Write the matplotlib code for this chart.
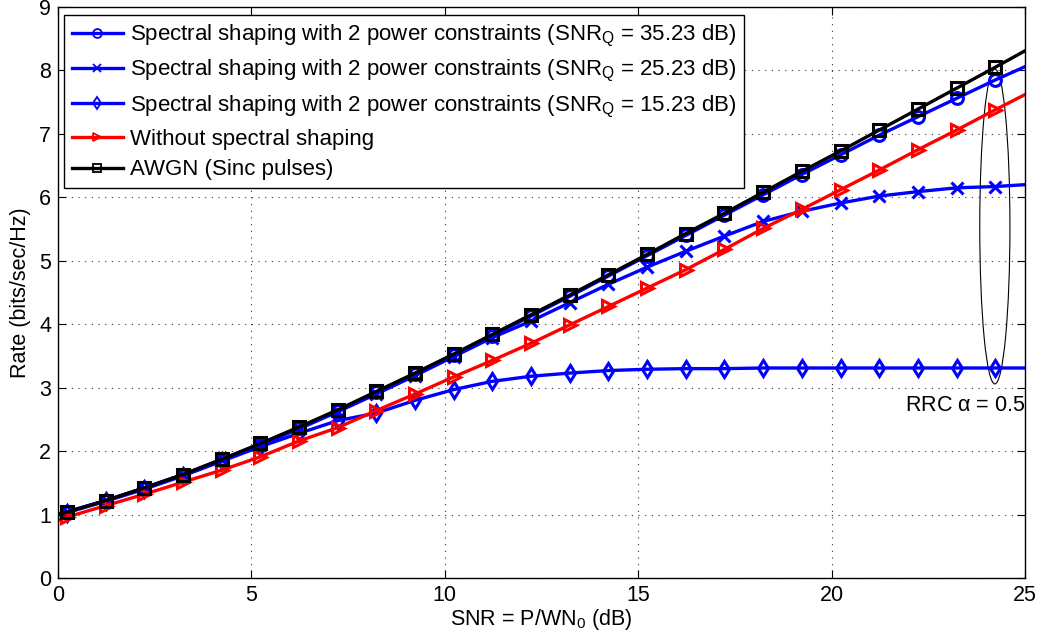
import matplotlib
matplotlib.use("Agg")
import matplotlib.pyplot as plt
from matplotlib.patches import Ellipse

plt.rcParams["font.family"] = ["Liberation Sans", "DejaVu Sans"]
plt.rcParams["mathtext.fontset"] = "custom"
plt.rcParams["mathtext.rm"] = "Liberation Sans"
plt.rcParams["mathtext.it"] = "Liberation Sans"

# SNR grid (dB): line starts at 0, markers at x.23, line ends at 25
snr_db = [0, 0.23, 1.23, 2.23, 3.23, 4.23, 5.23, 6.23, 7.23, 8.23, 9.23,
          10.23, 11.23, 12.23, 13.23, 14.23, 15.23, 16.23, 17.23, 18.23,
          19.23, 20.23, 21.23, 22.23, 23.23, 24.23, 25]

rate_q35 = [1.00, 1.04, 1.22, 1.42, 1.63, 1.87, 2.11, 2.37, 2.64, 2.93, 3.22,
            3.52, 3.82, 4.13, 4.44, 4.76, 5.08, 5.40, 5.72, 6.04, 6.36,
            6.67, 6.98, 7.27, 7.56, 7.85, 8.06]
rate_q25 = [1.00, 1.04, 1.22, 1.42, 1.63, 1.86, 2.10, 2.35, 2.62, 2.90, 3.19,
            3.49, 3.79, 4.05, 4.34, 4.63, 4.90, 5.15, 5.39, 5.62, 5.78,
            5.91, 6.02, 6.09, 6.15, 6.17, 6.20]
rate_q15 = [0.99, 1.03, 1.21, 1.40, 1.61, 1.84, 2.07, 2.28, 2.48, 2.60, 2.80,
            2.97, 3.10, 3.18, 3.23, 3.27, 3.29, 3.30, 3.30, 3.31, 3.31,
            3.31, 3.31, 3.31, 3.31, 3.31, 3.31]
rate_noshape = [0.91, 0.96, 1.14, 1.32, 1.51, 1.70, 1.91, 2.16, 2.37, 2.64, 2.90,
                3.17, 3.43, 3.70, 3.99, 4.28, 4.57, 4.86, 5.18, 5.51, 5.81,
                6.12, 6.43, 6.75, 7.06, 7.38, 7.62]
rate_awgn = [1.00, 1.04, 1.22, 1.42, 1.63, 1.87, 2.12, 2.38, 2.65, 2.94, 3.23,
             3.53, 3.84, 4.15, 4.46, 4.78, 5.10, 5.43, 5.75, 6.08, 6.41,
             6.73, 7.06, 7.39, 7.72, 8.05, 8.31]

labels = [
    r"Spectral shaping with 2 power constraints (SNR$_\mathrm{Q}$ = 35.23 dB)",
    r"Spectral shaping with 2 power constraints (SNR$_\mathrm{Q}$ = 25.23 dB)",
    r"Spectral shaping with 2 power constraints (SNR$_\mathrm{Q}$ = 15.23 dB)",
    "Without spectral shaping",
    "AWGN (Sinc pulses)",
]

blue = "#0000ff"
red = "#ff0000"
styles = [
    (rate_q35, blue, "o"),
    (rate_q25, blue, "x"),
    (rate_q15, blue, "d"),
    (rate_noshape, red, ">"),
    (rate_awgn, "black", "s"),
]

fs = 15.5

fig = plt.figure(figsize=(10.42, 6.44), dpi=100)
ax = fig.add_axes([0.0557, 0.1025, 0.928, 0.8866])

marks = list(range(1, len(snr_db) - 1))
for (vals, col, mk), lab in zip(styles, labels):
    ax.plot(snr_db, vals, color=col, linewidth=2.4, marker=mk,
            markersize=8.5, markeredgewidth=2.2, fillstyle="none",
            markevery=marks, label=lab)

ax.add_patch(Ellipse((24.22, 5.54), 0.78, 4.96, fill=False,
                     edgecolor="black", linewidth=0.8))
ax.text(25, 2.72, r"RRC $\alpha$ = 0.5", ha="right", va="center", fontsize=fs)

ax.set_xlim(0, 25)
ax.set_ylim(0, 9)
ax.set_xticks([0, 5, 10, 15, 20, 25])
ax.set_yticks(range(0, 10))
ax.tick_params(direction="in", top=True, right=True, labelsize=fs,
               length=6, width=0.8, pad=5)
ax.grid(True, linestyle=(0, (1, 5)), color="#333333", linewidth=0.8)
for sp in ax.spines.values():
    sp.set_linewidth(1.0)

ax.set_xlabel(r"SNR = P/WN$_\mathrm{0}$ (dB)", fontsize=fs, labelpad=1)
ax.set_ylabel("Rate (bits/sec/Hz)", fontsize=fs, labelpad=6)

leg = ax.legend(loc="upper left", bbox_to_anchor=(0.0062, 0.986),
                borderaxespad=0, fontsize=16, handlelength=2.3,
                markerscale=0.75, fancybox=False, framealpha=1,
                edgecolor="black", labelspacing=0.42, borderpad=0.35,
                handletextpad=0.3)
leg.get_frame().set_linewidth(1.0)
for h in leg.legend_handles:
    h.set_markeredgewidth(1.3)

fig.savefig("out.png", dpi=100)
